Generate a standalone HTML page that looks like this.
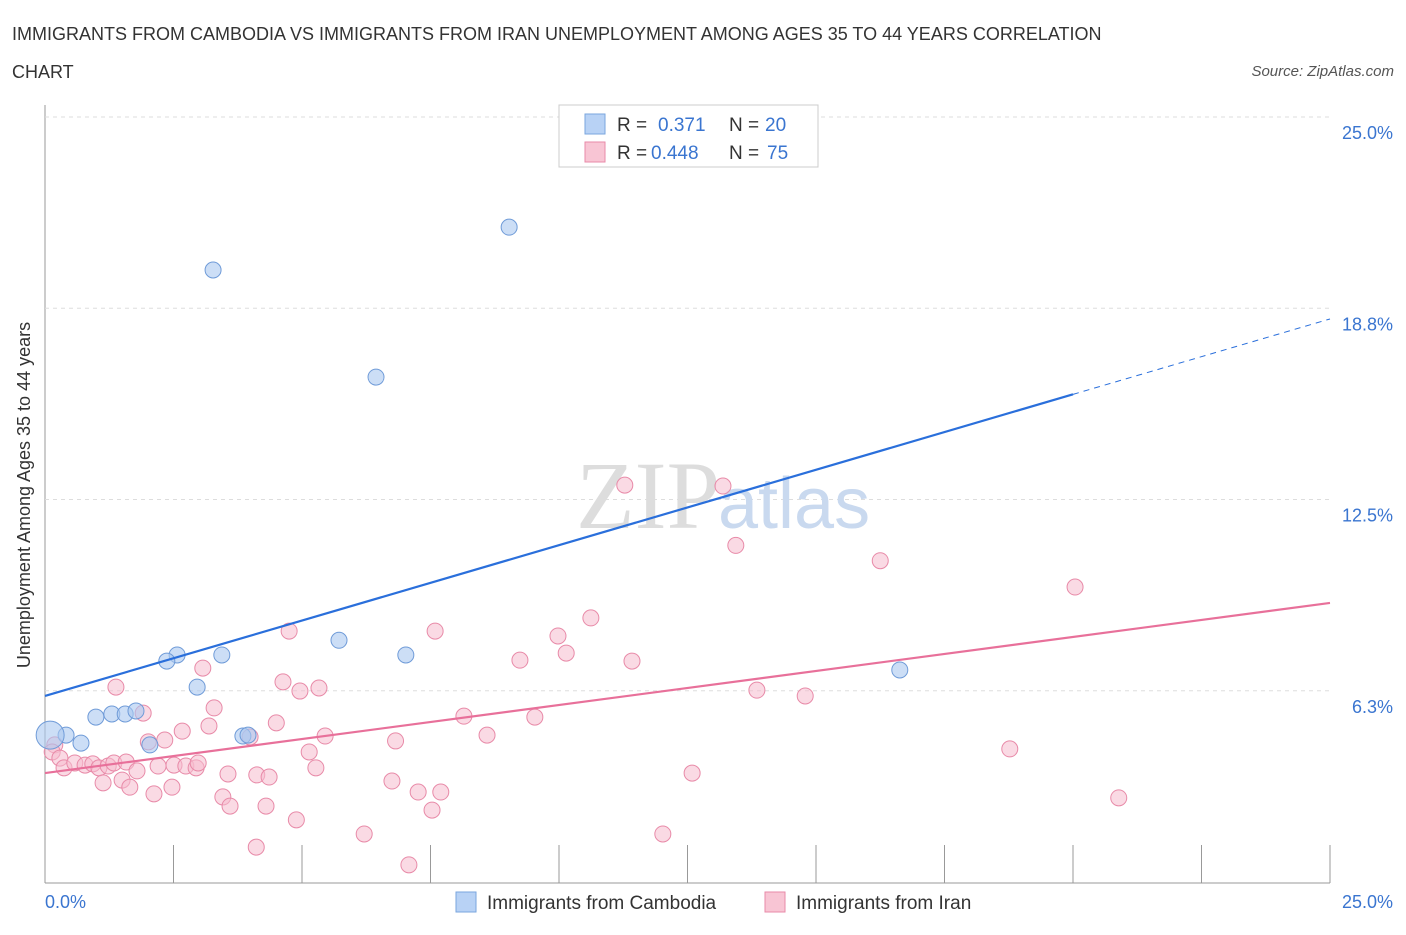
<!DOCTYPE html>
<html><head><meta charset="utf-8"><style>
body{margin:0;background:#fff;font-family:"Liberation Sans",sans-serif;}
</style></head><body>
<svg width="1406" height="930" xmlns="http://www.w3.org/2000/svg" style="font-family:'Liberation Sans',sans-serif">
<text x="12" y="40" font-size="18" fill="#333">IMMIGRANTS FROM CAMBODIA VS IMMIGRANTS FROM IRAN UNEMPLOYMENT AMONG AGES 35 TO 44 YEARS CORRELATION</text>
<text x="12" y="78" font-size="18" fill="#333">CHART</text>
<text x="1394" y="76" font-size="15" fill="#555" font-style="italic" text-anchor="end">Source: ZipAtlas.com</text>
<g id="grid"></g>
<text x="720" y="528" font-size="96" fill="#ddd" text-anchor="end" font-family="Liberation Serif">ZIP</text>
<text x="718" y="528" font-size="72" fill="#c9d9ef">atlas</text>
<g id="pts"></g>
<g id="lines"></g>
<text x="30" y="495" font-size="18" fill="#333" text-anchor="middle" transform="rotate(-90 30 495)">Unemployment Among Ages 35 to 44 years</text>
<text x="45" y="908" font-size="18" fill="#3a75d0">0.0%</text>
<text x="1393" y="908" font-size="18" fill="#3a75d0" text-anchor="end">25.0%</text>
<g>
<rect x="559" y="105" width="259" height="62" fill="#fff" stroke="#ccc"/>
<rect x="585" y="114" width="20" height="20" fill="#b8d2f5" stroke="#7aa6de"/>
<text x="617" y="131" font-size="19" fill="#333">R = </text><text x="658" y="131" font-size="19" fill="#3a75d0">0.371</text>
<text x="729" y="131" font-size="19" fill="#333">N = </text><text x="765" y="131" font-size="19" fill="#3a75d0">20</text>
<rect x="585" y="142" width="20" height="20" fill="#f8c5d4" stroke="#e88aa8"/>
<text x="617" y="159" font-size="19" fill="#333">R = </text><text x="651" y="159" font-size="19" fill="#3a75d0">0.448</text>
<text x="729" y="159" font-size="19" fill="#333">N = </text><text x="767" y="159" font-size="19" fill="#3a75d0">75</text>
</g>
<g>
<rect x="456" y="892" width="20" height="20" fill="#b8d2f5" stroke="#7aa6de"/>
<text x="487" y="909" font-size="19" fill="#333">Immigrants from Cambodia</text>
<rect x="765" y="892" width="20" height="20" fill="#f8c5d4" stroke="#e88aa8"/>
<text x="796" y="909" font-size="19" fill="#333">Immigrants from Iran</text>
</g>
</svg>
<script>
const yTicks=[25,18.75,12.5,6.25];
const yTickLabels=["25.0%","18.8%","12.5%","6.3%"];
const cambodiaX=[9.03,3.27,6.44,5.72,7.02,2.57,3.44,2.37,2.96,16.63,0.99,1.30,1.56,1.77,0.41,0.70,2.04,3.85,3.95,0.1];
const cambodiaY=[21.4,20.0,16.5,7.9,7.42,7.42,7.42,7.22,6.37,6.93,5.39,5.49,5.49,5.59,4.8,4.54,4.48,4.77,4.8,4.8];
const iranX=[11.28,13.19,13.44,16.25,20.04,10.62,4.75,7.59,9.98,10.14,9.24,11.42,1.38,3.07,4.63,4.96,5.33,13.85,14.79,3.29,1.91,8.15,9.53,3.19,4.5,2.67,5.45,8.6,2.33,2.01,3.99,6.82,18.77,5.14,0.19,0.14,0.29,0.37,0.58,0.78,0.93,1.05,1.23,1.34,1.58,1.79,2.2,2.51,2.74,2.94,2.98,5.27,3.56,4.12,4.36,1.5,1.13,1.65,2.47,12.59,6.75,7.26,7.7,2.12,3.46,3.6,4.3,7.53,4.89,20.89,6.21,12.02,4.11,7.08];
const iranY=[12.97,12.94,11.0,10.5,9.64,8.63,8.2,8.2,8.04,7.48,7.25,7.22,6.37,6.99,6.54,6.24,6.34,6.27,6.08,5.69,5.52,5.42,5.39,5.1,5.2,4.93,4.77,4.8,4.64,4.58,4.74,4.61,4.35,4.25,4.48,4.25,4.05,3.73,3.89,3.82,3.86,3.73,3.79,3.89,3.92,3.63,3.79,3.82,3.79,3.73,3.89,3.73,3.53,3.5,3.43,3.33,3.24,3.1,3.1,3.56,3.3,2.94,2.94,2.88,2.78,2.48,2.48,2.35,2.03,2.75,1.57,1.57,1.14,0.56];
const cambodiaTrend=[6.08,18.4];
const iranTrend=[3.56,9.12];
const NS="http://www.w3.org/2000/svg";
const X=v=>45+v*51.4, Y=v=>882-v*30.6;
function mk(t,a,p){const e=document.createElementNS(NS,t);for(const k in a)e.setAttribute(k,a[k]);p.appendChild(e);return e;}
const grid=document.getElementById('grid');
const ax=mk('line',{x1:45,y1:105,x2:45,y2:883,stroke:'#999'},grid);


const bx=mk('line',{x1:45,y1:883,x2:1330,y2:883,stroke:'#999'},grid);


yTicks.forEach((t,i)=>{
 const g=mk('line',{x1:45,y1:Y(t),x2:1330,y2:Y(t),stroke:'#ddd','stroke-dasharray':'4 4'},grid);
 
 
 const l=mk('text',{x:1393,y:Y(t)+22,'font-size':18,fill:'#3a75d0','text-anchor':'end'},grid);
 l.textContent=yTickLabels[i];
 
 
});
for(let i=1;i<=10;i++){
 const t=mk('line',{x1:X(i*2.5),y1:845,x2:X(i*2.5),y2:883,stroke:'#999'},grid);
 
 
}
const pts=document.getElementById('pts');
iranX.forEach((x,i)=>{
 const c=mk('circle',{cx:X(x),cy:Y(iranY[i]),r:8,fill:'rgba(246,188,205,0.55)',stroke:'#e88aa8','stroke-width':1},pts);
 
 
});
cambodiaX.forEach((x,i)=>{
 const c=mk('circle',{cx:X(x),cy:Y(cambodiaY[i]),r:i==19?14:8,fill:'rgba(170,200,240,0.6)',stroke:'#6f9bd8','stroke-width':1},pts);
 
 
});
const lines=document.getElementById('lines');
const bEnd=20, by=v=>cambodiaTrend[0]+(cambodiaTrend[1]-cambodiaTrend[0])*v/25;
const l1=mk('line',{x1:X(0),y1:Y(by(0)),x2:X(bEnd),y2:Y(by(bEnd)),stroke:'#2a6fdb','stroke-width':2.2},lines);


const l2=mk('line',{x1:X(bEnd),y1:Y(by(bEnd)),x2:X(25),y2:Y(by(25)),stroke:'#2a6fdb','stroke-width':1,'stroke-dasharray':'6 5'},lines);


const l3=mk('line',{x1:X(0),y1:Y(iranTrend[0]),x2:X(25),y2:Y(iranTrend[1]),stroke:'#e8709a','stroke-width':2.2},lines);


</script>
</body></html>
